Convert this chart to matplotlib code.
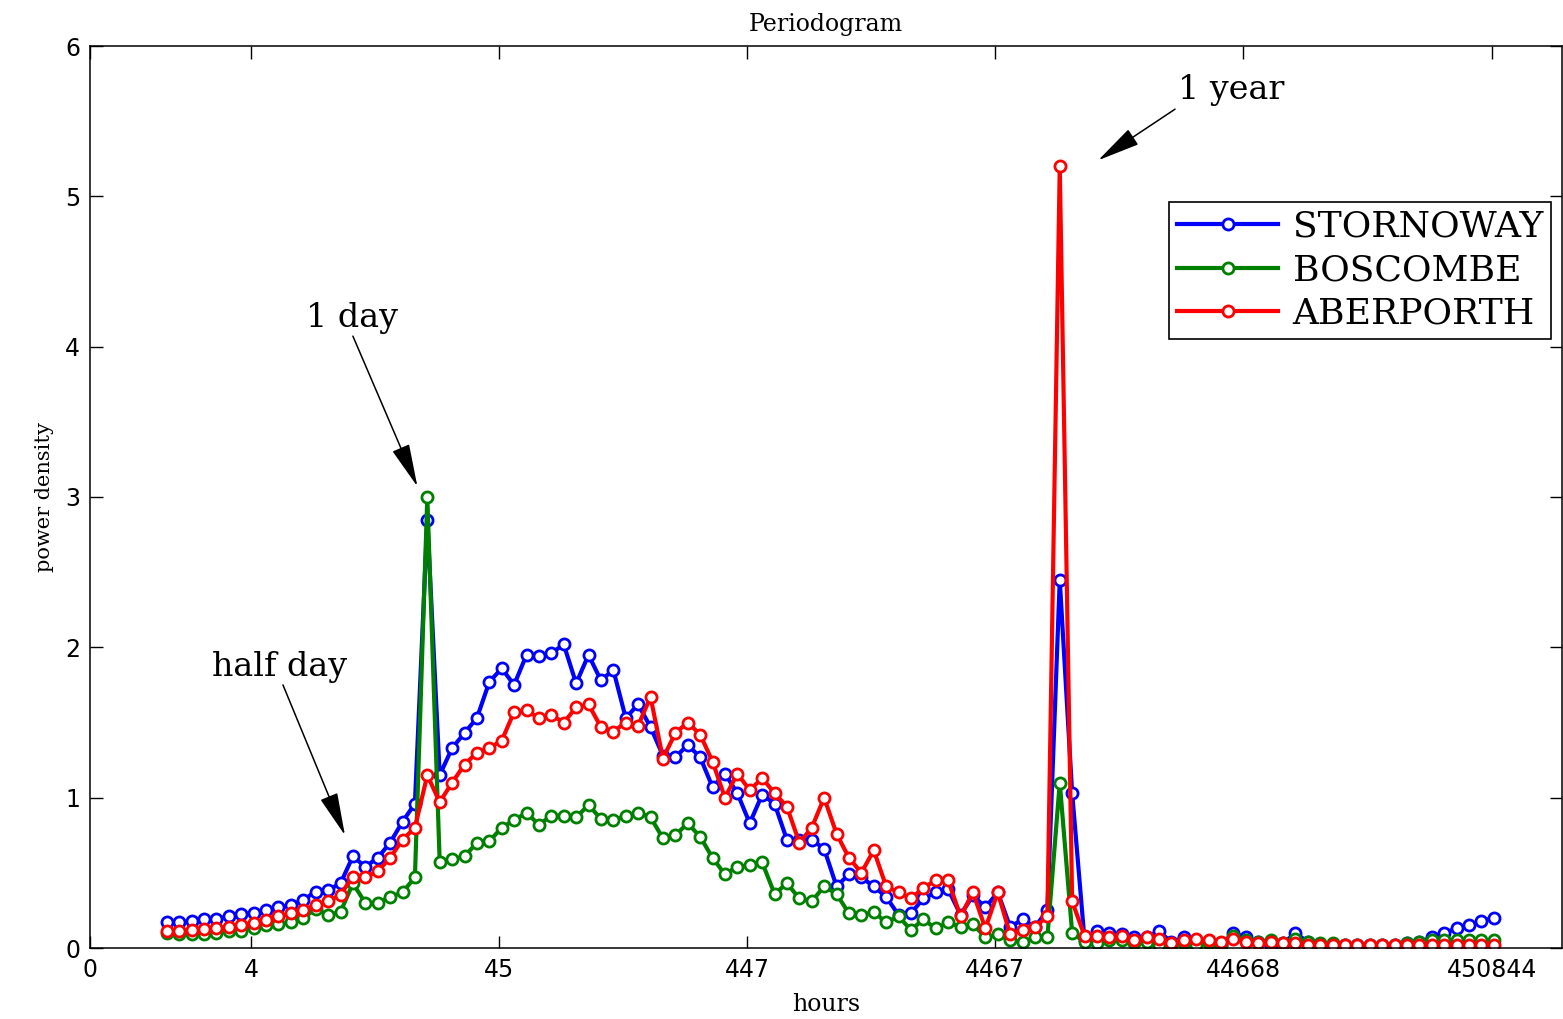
import matplotlib
matplotlib.use("Agg")
import matplotlib.pyplot as plt
import numpy as np

# log10(period in hours) of each periodogram bin
log_period = [0.31, 0.36, 0.41, 0.46, 0.51, 0.56, 0.61, 0.66, 0.71, 0.76, 0.81, 0.86,
              0.91, 0.96, 1.01, 1.06, 1.11, 1.16, 1.21, 1.26, 1.31, 1.36, 1.41, 1.46,
              1.51, 1.56, 1.61, 1.66, 1.71, 1.76, 1.81, 1.86, 1.91, 1.96, 2.01, 2.06,
              2.11, 2.16, 2.21, 2.26, 2.31, 2.36, 2.41, 2.46, 2.51, 2.56, 2.61, 2.66,
              2.71, 2.76, 2.81, 2.86, 2.91, 2.96, 3.01, 3.06, 3.11, 3.16, 3.21, 3.26,
              3.31, 3.36, 3.41, 3.46, 3.51, 3.56, 3.61, 3.66, 3.71, 3.76, 3.81, 3.86,
              3.91, 3.96, 4.01, 4.06, 4.11, 4.16, 4.21, 4.26, 4.31, 4.36, 4.41, 4.46,
              4.51, 4.56, 4.61, 4.66, 4.71, 4.76, 4.81, 4.86, 4.91, 4.96, 5.01, 5.06,
              5.11, 5.16, 5.21, 5.26, 5.31, 5.36, 5.41, 5.46, 5.51, 5.56, 5.61, 5.66]

stornoway = [0.175, 0.17, 0.18, 0.19, 0.195, 0.21, 0.225, 0.235, 0.25, 0.27, 0.285, 0.32,
             0.375, 0.385, 0.43, 0.61, 0.54, 0.60, 0.70, 0.84, 0.96, 2.85, 1.15, 1.33,
             1.43, 1.53, 1.77, 1.86, 1.75, 1.95, 1.94, 1.96, 2.02, 1.76, 1.95, 1.78,
             1.85, 1.53, 1.62, 1.47, 1.28, 1.27, 1.35, 1.27, 1.07, 1.16, 1.03, 0.83,
             1.02, 0.96, 0.72, 0.72, 0.72, 0.66, 0.41, 0.49, 0.47, 0.41, 0.34, 0.22,
             0.23, 0.33, 0.37, 0.39, 0.22, 0.35, 0.27, 0.37, 0.14, 0.19, 0.14, 0.25,
             2.45, 1.03, 0.05, 0.11, 0.10, 0.09, 0.07, 0.07, 0.11, 0.04, 0.07, 0.05,
             0.04, 0.02, 0.10, 0.07, 0.04, 0.01, 0.03, 0.10, 0.04, 0.02, 0.02, 0.02,
             0.02, 0.02, 0.02, 0.02, 0.03, 0.04, 0.07, 0.10, 0.13, 0.15, 0.18, 0.20]

boscombe = [0.10, 0.09, 0.095, 0.095, 0.10, 0.11, 0.115, 0.135, 0.15, 0.16, 0.17, 0.20,
            0.26, 0.22, 0.24, 0.43, 0.30, 0.30, 0.34, 0.37, 0.47, 3.00, 0.57, 0.59,
            0.61, 0.70, 0.71, 0.80, 0.85, 0.90, 0.82, 0.88, 0.88, 0.87, 0.95, 0.86,
            0.85, 0.88, 0.90, 0.87, 0.73, 0.75, 0.83, 0.74, 0.60, 0.49, 0.54, 0.55,
            0.57, 0.36, 0.43, 0.33, 0.31, 0.41, 0.36, 0.23, 0.22, 0.24, 0.17, 0.21,
            0.12, 0.19, 0.13, 0.17, 0.14, 0.16, 0.07, 0.09, 0.05, 0.04, 0.07, 0.07,
            1.10, 0.10, 0.04, 0.03, 0.05, 0.05, 0.03, 0.04, 0.02, 0.02, 0.03, 0.02,
            0.03, 0.02, 0.08, 0.05, 0.04, 0.05, 0.03, 0.06, 0.04, 0.03, 0.03, 0.02,
            0.02, 0.02, 0.02, 0.02, 0.03, 0.04, 0.05, 0.05, 0.05, 0.05, 0.05, 0.05]

aberporth = [0.11, 0.115, 0.12, 0.125, 0.13, 0.14, 0.155, 0.165, 0.185, 0.21, 0.23, 0.255,
             0.285, 0.31, 0.355, 0.475, 0.47, 0.51, 0.60, 0.72, 0.80, 1.15, 0.97, 1.10,
             1.22, 1.30, 1.33, 1.38, 1.57, 1.58, 1.53, 1.55, 1.50, 1.60, 1.62, 1.47,
             1.44, 1.50, 1.48, 1.67, 1.26, 1.43, 1.50, 1.42, 1.24, 1.00, 1.16, 1.05,
             1.13, 1.03, 0.94, 0.70, 0.80, 1.00, 0.76, 0.60, 0.50, 0.65, 0.41, 0.37,
             0.33, 0.40, 0.45, 0.45, 0.21, 0.37, 0.13, 0.37, 0.09, 0.12, 0.14, 0.21,
             5.20, 0.31, 0.08, 0.08, 0.07, 0.08, 0.05, 0.07, 0.06, 0.03, 0.05, 0.06,
             0.05, 0.04, 0.06, 0.04, 0.03, 0.04, 0.03, 0.03, 0.02, 0.02, 0.02, 0.02,
             0.02, 0.02, 0.02, 0.02, 0.02, 0.02, 0.02, 0.02, 0.02, 0.02, 0.02, 0.02]

tick_pos = [0, 0.65, 1.65, 2.65, 3.65, 4.65, 5.654]
tick_lab = ['0', '4', '45', '447', '4467', '44668', '450844']

fig = plt.figure(figsize=(15.63, 10.19), dpi=100)
ax = fig.add_axes([90/1563, 71/1019, 1472/1563, 902/1019])

mk = dict(marker='o', ms=8, mfc='white', mew=2.0, lw=3.0)
ax.plot(log_period, stornoway, color=(0, 0, 1), label='STORNOWAY', **mk)
ax.plot(log_period, boscombe, color=(0, 0.5, 0), label='BOSCOMBE', **mk)
ax.plot(log_period, aberporth, color=(1, 0, 0), label='ABERPORTH', **mk)

ax.set_xlim(0, 5.935)
ax.set_ylim(0, 6)
ax.set_xticks(tick_pos)
ax.set_xticklabels(tick_lab)
ax.set_yticks(range(7))
ax.tick_params(direction='in', length=9, width=1, top=True, right=True,
               labelsize=17, pad=7)
for s in ax.spines.values():
    s.set_linewidth(1.1)

serif = ['DejaVu Serif']
ax.set_title('Periodogram', fontsize=17, family=serif, pad=11)
ax.set_xlabel('hours', fontsize=17, family=serif, labelpad=8)
ax.set_ylabel('power density', fontsize=15, family=serif, labelpad=8)

arr = dict(arrowstyle='-|>,head_length=1.5,head_width=0.32', color='black',
           lw=1.1, shrinkA=0, shrinkB=0, mutation_scale=18)
ax.text(0.766, 1.87, 'half day', fontsize=24, family=serif, ha='center', va='center')
ax.annotate('', xy=(1.028, 0.75), xytext=(0.778, 1.75), arrowprops=arr)
ax.text(1.056, 4.19, '1 day', fontsize=24, family=serif, ha='center', va='center')
ax.annotate('', xy=(1.32, 3.07), xytext=(1.06, 4.07), arrowprops=arr)
ax.text(4.60, 5.71, '1 year', fontsize=24, family=serif, ha='center', va='center')
ax.annotate('', xy=(4.065, 5.24), xytext=(4.375, 5.58), arrowprops=arr)

leg = ax.legend(loc='upper right', bbox_to_anchor=(0.9925, 0.827), borderaxespad=0,
                fancybox=False, edgecolor='black', framealpha=1, handlelength=2.8,
                labelspacing=0.26, borderpad=0.22, handletextpad=0.4,
                prop={'family': serif, 'size': 26})
leg.get_frame().set_linewidth(1.2)

fig.savefig('out.png', dpi=100)
